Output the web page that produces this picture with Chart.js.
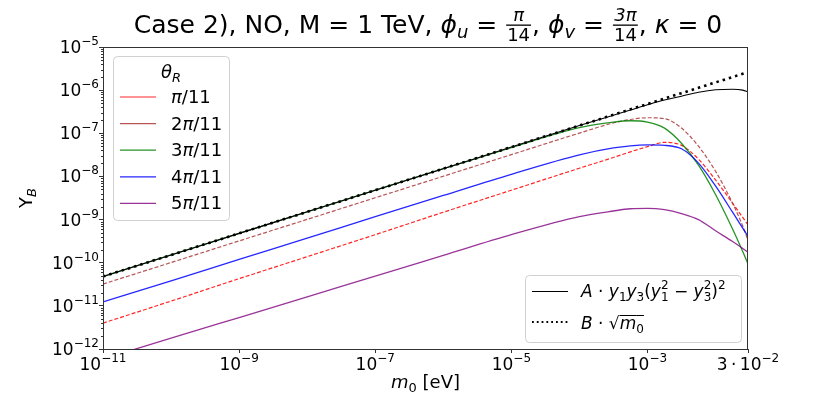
<!DOCTYPE html>
<html>
<head>
<meta charset="utf-8">
<script src="https://cdn.jsdelivr.net/npm/chart.js@4.4.0/dist/chart.umd.min.js"></script>
<style>
  html, body { margin: 0; padding: 0; background: #fff; }
  #wrap { width: 831px; height: 394px; position: relative; }
</style>
</head>
<body>
<div id="wrap"><canvas id="myChart"></canvas></div>
<script>
// m0 [eV] sample points (shared by all curves)
const m0 = [1e-11, 1e-10, 1e-9, 1e-8, 1e-7, 1e-6, 1e-5, 1e-4, 3.16e-4, 5.62e-4,
            1e-3, 1.78e-3, 3.16e-3, 5.62e-3, 1e-2, 1.78e-2, 2.51e-2, 3e-2];

// Y_B for theta_R = k*pi/11
const yPi11  = [3.98e-12, 1.29e-11, 4.27e-11, 1.38e-10, 4.47e-10, 1.48e-9, 4.79e-9, 1.55e-8, 2.75e-8, 3.72e-8,
                4.90e-8, 6.17e-8, 5.25e-8, 2.51e-8, 8.32e-9, 2.40e-9, 1.12e-9, 7.59e-10];
const y2Pi11 = [3.20e-11, 1.01e-10, 3.20e-10, 1.01e-9, 3.20e-9, 1.01e-8, 3.20e-8, 1.01e-7, 1.74e-7, 2.09e-7,
                2.29e-7, 2.19e-7, 1.32e-7, 5.01e-8, 1.32e-8, 2.40e-9, 7.08e-10, 3.31e-10];
const y3Pi11 = [4.79e-11, 1.51e-10, 4.79e-10, 1.51e-9, 4.79e-9, 1.51e-8, 4.68e-8, 1.35e-7, 1.82e-7, 1.95e-7,
                1.82e-7, 1.32e-7, 5.89e-8, 1.82e-8, 3.80e-9, 6.03e-10, 1.82e-10, 9.33e-11];
const y4Pi11 = [1.23e-11, 3.80e-11, 1.20e-10, 3.72e-10, 1.17e-9, 3.63e-9, 1.12e-8, 3.16e-8, 4.57e-8, 5.13e-8,
                5.37e-8, 5.25e-8, 4.37e-8, 2.04e-8, 6.03e-9, 1.48e-9, 6.31e-10, 4.07e-10];
const y5Pi11 = [5.89e-13, 1.78e-12, 5.37e-12, 1.62e-11, 4.90e-11, 1.48e-10, 4.47e-10, 1.17e-9, 1.58e-9, 1.78e-9,
                1.82e-9, 1.70e-9, 1.38e-9, 1.00e-9, 5.50e-10, 3.09e-10, 2.14e-10, 1.74e-10];
// analytic approximations
const yApprox = [4.79e-11, 1.51e-10, 4.79e-10, 1.51e-9, 4.79e-9, 1.51e-8, 4.79e-8, 1.51e-7, 2.63e-7, 3.47e-7,
                 4.57e-7, 5.89e-7, 7.24e-7, 8.91e-7, 1.02e-6, 1.05e-6, 1.00e-6, 9.12e-7];
const ySqrt   = [4.79e-11, 1.51e-10, 4.79e-10, 1.51e-9, 4.79e-9, 1.51e-8, 4.79e-8, 1.51e-7, 2.69e-7, 3.59e-7,
                 4.79e-7, 6.38e-7, 8.51e-7, 1.135e-6, 1.51e-6, 2.02e-6, 2.40e-6, 2.63e-6];

const xTicks = [1e-11, 1e-9, 1e-7, 1e-5, 1e-3, 3e-2];
const xTickExp = ["−11", "−9", "−7", "−5", "−3", "−2"];
const yTicks = [1e-12, 1e-11, 1e-10, 1e-9, 1e-8, 1e-7, 1e-6, 1e-5];
const yTickExp = ["−12", "−11", "−10", "−9", "−8", "−7", "−6", "−5"];

const F = '"DejaVu Sans", sans-serif';
const C_RED = "rgba(255,0,0,0.85)";
const C_BROWN = "rgba(165,42,42,0.8)";
const C_GREEN = "rgba(0,128,0,0.85)";
const C_BLUE = "rgba(0,0,255,0.85)";
const C_PURPLE = "rgba(128,0,128,0.8)";

const pts = (ys) => m0.map((x, i) => ({ x: x, y: ys[i] }));

function line(label, ys, color, dash, width, order) {
  return {
    label: label,
    data: pts(ys),
    borderColor: color,
    borderWidth: width,
    borderDash: dash,
    pointRadius: 0,
    fill: false,
    cubicInterpolationMode: "monotone",
    order: order
  };
}

// draw a list of text runs on one baseline
function font(size, it) { return (it ? "italic " : "") + size + "px " + F; }
function runWidth(ctx, r) {
  if (r.frac) {
    ctx.font = font(r.size, r.it);
    return Math.max(ctx.measureText(r.frac[0]).width, ctx.measureText(r.frac[1]).width) + 4;
  }
  if (r.stack) {
    ctx.font = font(r.size, false);
    return Math.max(ctx.measureText(r.stack[0]).width, ctx.measureText(r.stack[1]).width);
  }
  ctx.font = font(r.size, r.it);
  return ctx.measureText(r.t).width;
}
function drawRuns(ctx, runs, x, y, align) {
  let w = 0;
  runs.forEach(r => { r.w = runWidth(ctx, r); w += r.w; });
  let cx = align === "center" ? x - w / 2 : align === "right" ? x - w : x;
  ctx.textAlign = "left";
  ctx.textBaseline = "alphabetic";
  runs.forEach(r => {
    if (r.frac) {
      ctx.font = font(r.size, r.it);
      const nw = ctx.measureText(r.frac[0]).width;
      const dw = ctx.measureText(r.frac[1]).width;
      ctx.fillText(r.frac[0], cx + (r.w - nw) / 2, y - 12);
      ctx.font = font(r.size, false);
      ctx.fillText(r.frac[1], cx + (r.w - dw) / 2, y + 8);
      ctx.fillRect(cx + 1, y - 8.5, r.w - 2, 1.3);
    } else if (r.stack) {
      ctx.font = font(r.size, false);
      ctx.fillText(r.stack[0], cx, y - 8);
      ctx.fillText(r.stack[1], cx, y + 4);
    } else {
      ctx.font = font(r.size, r.it);
      ctx.fillText(r.t, cx, y + (r.dy || 0));
      if (r.over) ctx.fillRect(cx, y - r.over, r.w + (r.overExtra || 0), 1);
    }
    cx += r.w;
  });
}

function roundBox(ctx, x, y, w, h) {
  ctx.save();
  ctx.beginPath();
  ctx.roundRect(x + 0.5, y + 0.5, w, h, 4);
  ctx.fillStyle = "rgba(255,255,255,0.85)";
  ctx.fill();
  ctx.strokeStyle = "#d0d0d0";
  ctx.lineWidth = 1;
  ctx.stroke();
  ctx.restore();
}

const decor = {
  id: "decor",
  afterDraw(chart) {
    const { ctx, chartArea: { left, right, top, bottom }, scales: { x, y } } = chart;
    ctx.save();
    // box
    ctx.strokeStyle = "#333";
    ctx.lineWidth = 1;
    ctx.strokeRect(left + 0.5, top + 0.5, right - left - 1, bottom - top);
    // minor y ticks
    ctx.beginPath();
    for (let n = -12; n < -5; n++) {
      for (let k = 2; k <= 9; k++) {
        const py = Math.round(y.getPixelForValue(k * Math.pow(10, n))) + 0.5;
        ctx.moveTo(left - 2, py);
        ctx.lineTo(left, py);
      }
    }
    ctx.stroke();

    ctx.fillStyle = "#000";
    // x tick labels
    xTicks.forEach((v, i) => {
      const px = x.getPixelForValue(v);
      const base = v === 3e-2 ? "3\u2009·\u200910" : "10";
      drawRuns(ctx, [{ t: base, size: 17 }, { t: xTickExp[i], size: 12, dy: -8 }], px, 370, "center");
    });
    // y tick labels
    yTicks.forEach((v, i) => {
      const py = y.getPixelForValue(v);
      drawRuns(ctx, [{ t: "10", size: 17 }, { t: yTickExp[i], size: 12, dy: -8 }], 99, py + 6, "right");
    });
    // x label
    drawRuns(ctx, [{ t: "m", size: 18, it: true }, { t: "0", size: 13, dy: 4 }, { t: " [eV]", size: 18 }],
      (left + right) / 2, 388, "center");
    // y label
    ctx.save();
    ctx.translate(32, (top + bottom) / 2);
    ctx.rotate(-Math.PI / 2);
    drawRuns(ctx, [{ t: "Y", size: 18 }, { t: "B", size: 13, it: true, dy: 4 }], 0, 0, "center");
    ctx.restore();

    // title
    drawRuns(ctx, [
      { t: "Case 2), NO, M = 1 TeV, ", size: 25 },
      { t: "ϕ", size: 25, it: true }, { t: "u", size: 18, it: true, dy: 5 },
      { t: " = ", size: 25 },
      { frac: ["π", "14"], size: 18, it: true },
      { t: ", ", size: 25 },
      { t: "ϕ", size: 25, it: true }, { t: "v", size: 18, it: true, dy: 5 },
      { t: " = ", size: 25 },
      { frac: ["3π", "14"], size: 18, it: true },
      { t: ", ", size: 25 },
      { t: "κ", size: 25, it: true },
      { t: " = 0", size: 25 }
    ], 428, 33, "center");

    // legend: theta_R
    roundBox(ctx, 113, 56, 116, 164);
    ctx.fillStyle = "#000";
    drawRuns(ctx, [{ t: "θ", size: 18, it: true }, { t: "R", size: 13, it: true, dy: 4 }], 171, 78, "center");
    const legItems = [
      [C_RED, ""], [C_BROWN, "2"], [C_GREEN, "3"], [C_BLUE, "4"], [C_PURPLE, "5"]
    ];
    legItems.forEach((it, i) => {
      const ly = 97 + i * 26.6;
      ctx.strokeStyle = it[0];
      ctx.lineWidth = 1.2;
      ctx.beginPath();
      ctx.moveTo(120, ly);
      ctx.lineTo(156, ly);
      ctx.stroke();
      ctx.fillStyle = "#000";
      drawRuns(ctx, [{ t: it[1], size: 18 }, { t: "π", size: 18, it: true }, { t: "/11", size: 18 }], 171, ly + 6, "left");
    });

    // legend: approximations
    roundBox(ctx, 525, 275, 216, 67);
    ctx.strokeStyle = "#000";
    ctx.lineWidth = 1;
    ctx.beginPath();
    ctx.moveTo(532, 291.5);
    ctx.lineTo(568, 291.5);
    ctx.stroke();
    ctx.lineWidth = 1.8;
    ctx.setLineDash([1.8, 3]);
    ctx.beginPath();
    ctx.moveTo(532, 322);
    ctx.lineTo(568, 322);
    ctx.stroke();
    ctx.setLineDash([]);
    ctx.fillStyle = "#000";
    drawRuns(ctx, [
      { t: "A", size: 17, it: true }, { t: " · ", size: 17 },
      { t: "y", size: 17, it: true }, { t: "1", size: 12, dy: 4 },
      { t: "y", size: 17, it: true }, { t: "3", size: 12, dy: 4 },
      { t: "(", size: 17 }, { t: "y", size: 17, it: true }, { stack: ["2", "1"], size: 12 },
      { t: " − ", size: 17 },
      { t: "y", size: 17, it: true }, { stack: ["2", "3"], size: 12 },
      { t: ")", size: 17 }, { t: "2", size: 12, dy: -8 }
    ], 581, 297, "left");
    drawRuns(ctx, [
      { t: "B", size: 17, it: true }, { t: " · ", size: 17 },
      { t: "√", size: 17 },
      { t: "m", size: 17, it: true, over: 14 }, { t: "0", size: 12, dy: 4, over: 14 }
    ], 581, 329, "left");
    ctx.restore();
  }
};

const data = {
  datasets: [
    line("B·√m0", ySqrt, "#000", [2.5, 4], 2.6, 0),
    line("A·y1y3(y1²−y3²)²", yApprox, "#000", [], 1.1, 1),
    line("π/11", yPi11, C_RED, [4, 2], 1.2, 6),
    line("2π/11", y2Pi11, C_BROWN, [4, 2], 1.2, 5),
    line("3π/11", y3Pi11, C_GREEN, [], 1.3, 4),
    line("4π/11", y4Pi11, C_BLUE, [], 1.3, 3),
    line("5π/11", y5Pi11, C_PURPLE, [], 1.3, 2)
  ]
};

const axisCommon = {
  type: "logarithmic",
  ticks: { display: false },
  grid: { display: true, drawOnChartArea: false, drawTicks: true, tickLength: 4, color: "#333" },
  border: { display: true, color: "#333", width: 1 }
};

const ctx = document.getElementById("myChart");
const myChart = new Chart(ctx, {
  type: "line",
  data: data,
  options: {
    responsive: true,
    maintainAspectRatio: false,
    devicePixelRatio: 1,
    animation: false,
    events: [],
    layout: { padding: { left: 0, right: 83, top: 47, bottom: 0 } },
    plugins: {
      legend: { display: false },
      title: { display: false },
      tooltip: { enabled: false }
    },
    scales: {
      x: Object.assign({}, axisCommon, {
        min: 1e-11, max: 3e-2,
        afterBuildTicks: s => { s.ticks = xTicks.map(v => ({ value: v })); },
        afterFit: s => { s.height = 45; }
      }),
      y: Object.assign({}, axisCommon, {
        min: 1e-12, max: 1e-5,
        afterBuildTicks: s => { s.ticks = yTicks.map(v => ({ value: v })); },
        afterFit: s => { s.width = 103; }
      })
    }
  },
  plugins: [decor]
});
</script>
</body>
</html>
